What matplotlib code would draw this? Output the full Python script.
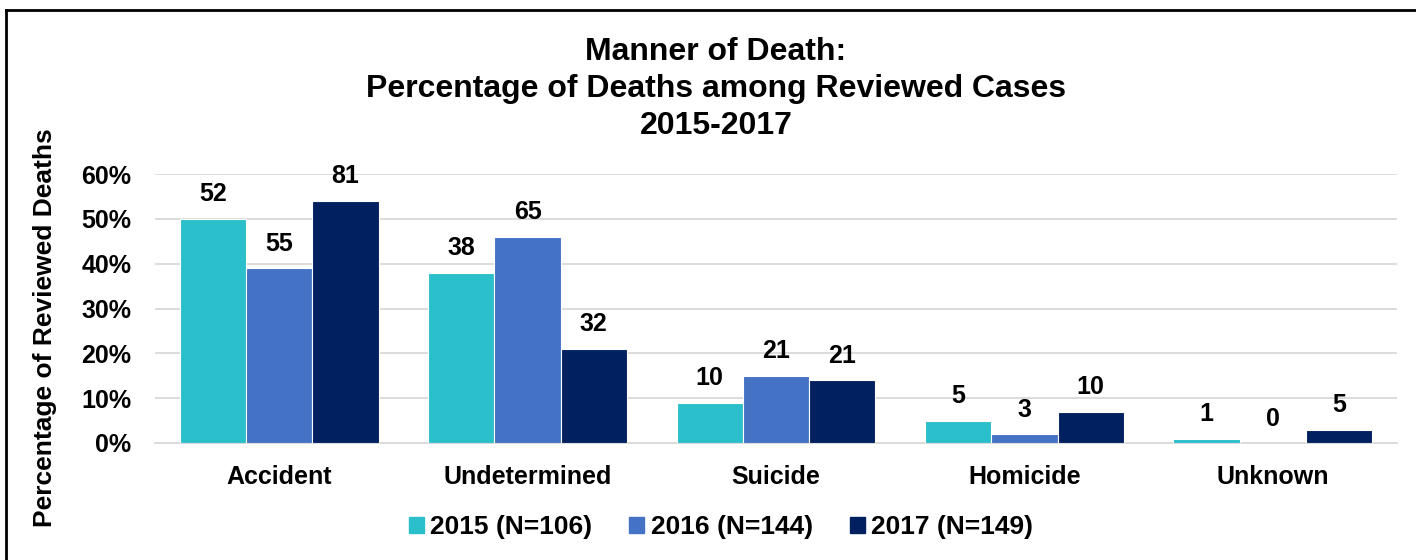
import matplotlib
matplotlib.use("Agg")
import matplotlib.pyplot as plt
import numpy as np
from matplotlib.lines import Line2D
from matplotlib.patches import Patch

categories = ["Accident", "Undetermined", "Suicide", "Homicide", "Unknown"]
series_names = ["2015 (N=106)", "2016 (N=144)", "2017 (N=149)"]
pct_2015 = [50, 38, 9, 5, 1]
pct_2016 = [39, 46, 15, 2, 0]
pct_2017 = [54, 21, 14, 7, 3]
count_2015 = [52, 38, 10, 5, 1]
count_2016 = [55, 65, 21, 3, 0]
count_2017 = [81, 32, 21, 10, 5]
yticks = [0, 10, 20, 30, 40, 50, 60]

colors = ["#2ABFCB", "#4472C4", "#002060"]

plt.rcParams['font.family'] = ['Liberation Sans', 'DejaVu Sans']
plt.rcParams['font.weight'] = 'bold'

fig = plt.figure(figsize=(14.16, 5.6), dpi=100)
ax = fig.add_axes([155/1416, 1-443/560, 1242/1416, (443-174)/560])

x = np.arange(len(categories))
w = 0.8/3
pcts = [pct_2015, pct_2016, pct_2017]
counts = [count_2015, count_2016, count_2017]
for i in range(3):
    bars = ax.bar(x + (i-1)*w, pcts[i], w, color=colors[i], edgecolor="white",
                  linewidth=0.8, zorder=3, label=series_names[i])
    for b, c in zip(bars, counts[i]):
        ax.annotate(str(c), (b.get_x()+b.get_width()/2, b.get_height()),
                    xytext=(0, 9), textcoords="offset points", ha="center",
                    va="bottom", fontsize=18, fontweight="bold", clip_on=False)

ax.set_xlim(-0.5, len(categories)-0.5)
ax.set_ylim(0, 60)
ax.set_yticks(yticks)
ax.set_yticklabels([f"{t}%" for t in yticks], fontsize=18, fontweight="bold")
ax.set_xticks(x)
ax.set_xticklabels(categories, fontsize=18, fontweight="bold")
ax.tick_params(axis="both", length=0)
ax.tick_params(axis="x", pad=16)
ax.tick_params(axis="y", pad=17)
ax.grid(axis="y", color="#D9D9D9", linewidth=1.3, zorder=0)
for s in ["top", "right", "left"]:
    ax.spines[s].set_visible(False)
ax.spines["bottom"].set_color("#D9D9D9")
ax.spines["bottom"].set_linewidth(1.3)

fig.text(45/1416, 1-328/560, "Percentage of Reviewed Deaths", rotation=90,
         ha="center", va="center", fontsize=19, fontweight="bold")

title_lines = ["Manner of Death:", "Percentage of Deaths among Reviewed Cases", "2015-2017"]
for k, t in enumerate(title_lines):
    fig.text(716/1416, 1-(52+37*k)/560, t, ha="center", va="center",
             fontsize=23, fontweight="bold")

handles = [Patch(color=c) for c in colors]
fig.legend(handles, series_names, loc="center", bbox_to_anchor=(721/1416, 1-527/560),
           ncol=3, frameon=False, fontsize=19, handlelength=0.56, handleheight=0.56,
           handletextpad=0.25, columnspacing=1.4)

fig.add_artist(Line2D([6/1416, 6/1416], [0, 1-10/560], color="black", linewidth=2, transform=fig.transFigure))
fig.add_artist(Line2D([6/1416, 1], [1-10/560, 1-10/560], color="black", linewidth=2, transform=fig.transFigure))

fig.savefig("out.png", dpi=100)
